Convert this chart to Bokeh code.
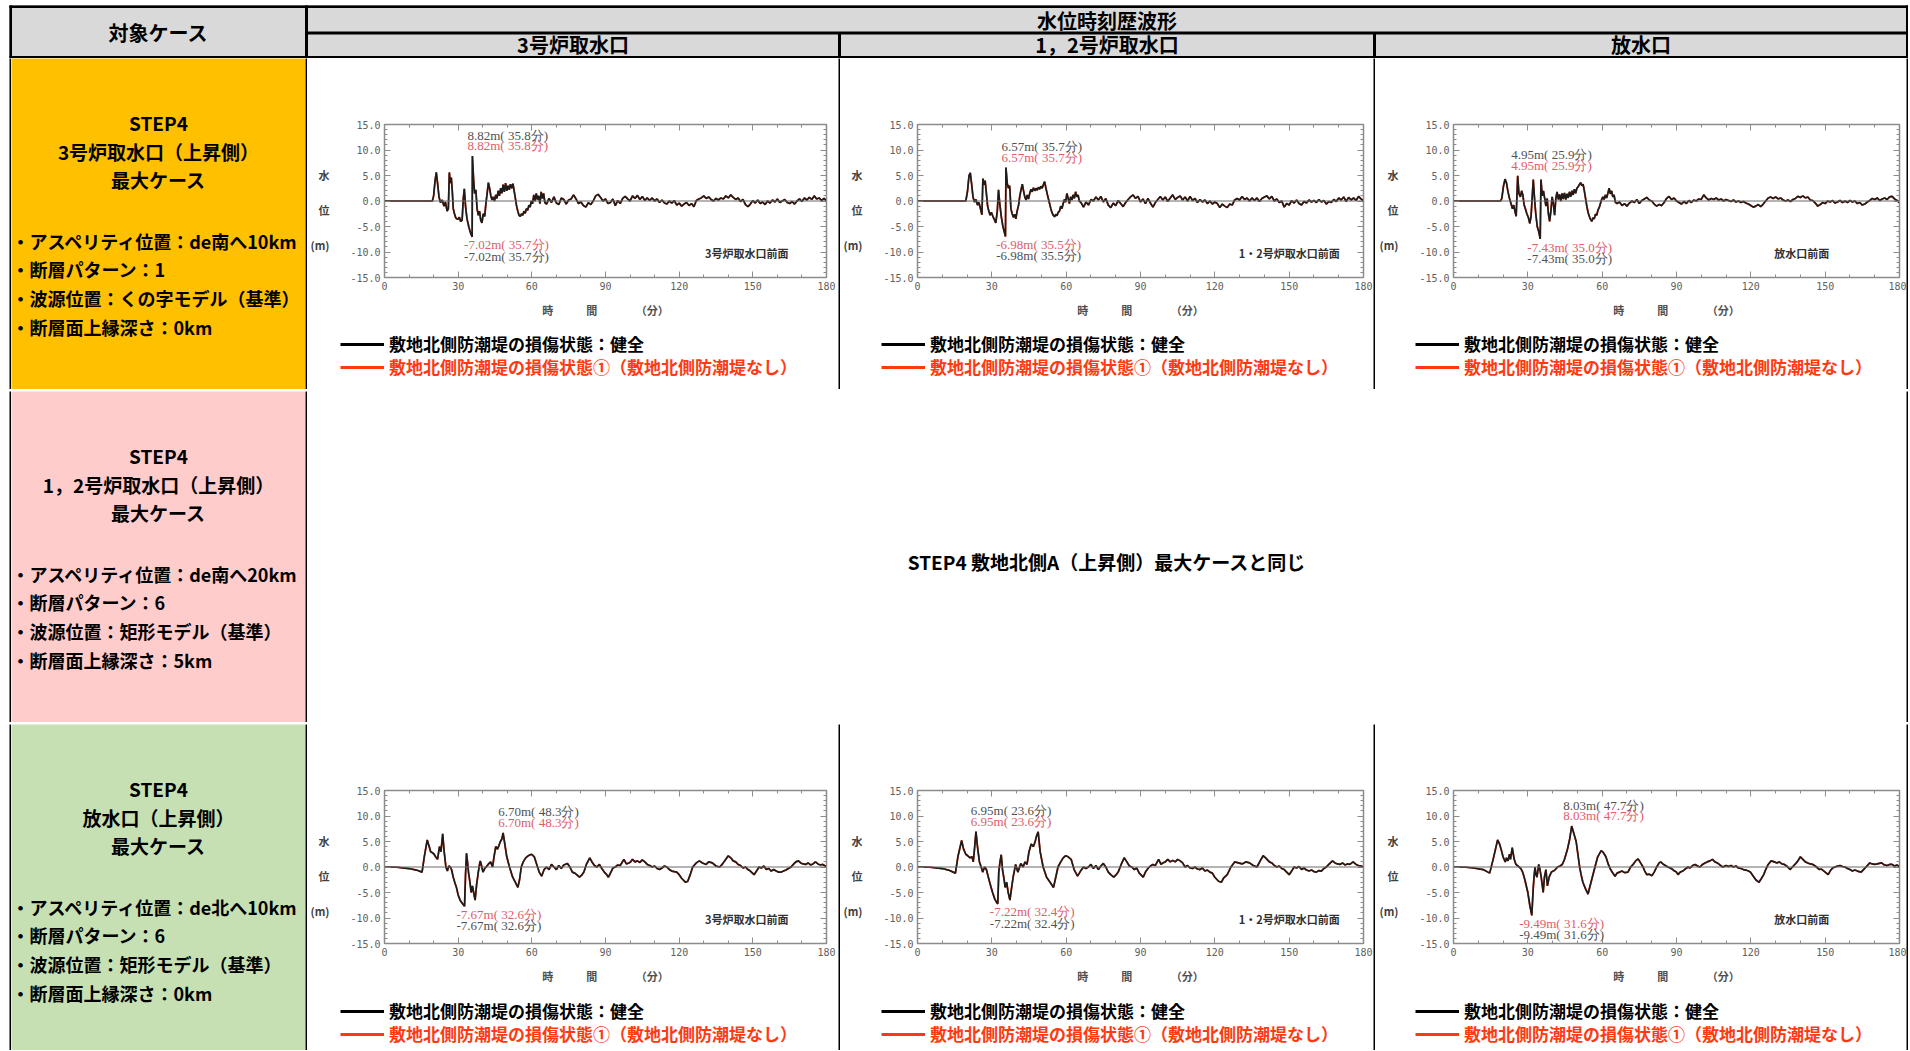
from bokeh.plotting import figure
from bokeh.layouts import column, row
from bokeh.models import (Range1d, Label, Span, Legend, LegendItem, FixedTicker,
                          PrintfTickFormatter, LinearAxis, ColumnDataSource)
from bokeh.embed import file_html
from bokeh.resources import INLINE

JP = "Noto Sans CJK JP"
SERIF = "Liberation Serif"
MONO = "DejaVu Sans Mono"

# ---------------- texts ----------------
HEAD_CASE = "対象ケース"
HEAD_WAVE = "水位時刻歴波形"
COL_TITLES = ["3号炉取水口", "1，2号炉取水口", "放水口"]
CASE_HEADS = [
    ["STEP4", "3号炉取水口（上昇側）", "最大ケース"],
    ["STEP4", "1，2号炉取水口（上昇側）", "最大ケース"],
    ["STEP4", "放水口（上昇側）", "最大ケース"],
]
CASE_BULLETS = [
    ["・アスペリティ位置：de南へ10km", "・断層パターン：1", "・波源位置：くの字モデル（基準）", "・断層面上縁深さ：0km"],
    ["・アスペリティ位置：de南へ20km", "・断層パターン：6", "・波源位置：矩形モデル（基準）", "・断層面上縁深さ：5km"],
    ["・アスペリティ位置：de北へ10km", "・断層パターン：6", "・波源位置：矩形モデル（基準）", "・断層面上縁深さ：0km"],
]
SAME_AS = "STEP4 敷地北側A（上昇側）最大ケースと同じ"
LEG_OK = "敷地北側防潮堤の損傷状態：健全"
LEG_DMG = "敷地北側防潮堤の損傷状態①（敷地北側防潮堤なし）"
GAUGE_NAMES = ["3号炉取水口前面", "1・2号炉取水口前面", "放水口前面"]
X_LABEL = "時　　　間　　　　（分）"
Y_LABEL = "\n水\n\n位\n\n(m)"

X_TICKS = [0, 30, 60, 90, 120, 150, 180]
X_MINOR = [10, 20, 40, 50, 70, 80, 100, 110, 130, 140, 160, 170]
Y_TICKS = [-15, -10, -5, 0, 5, 10, 15]
Y_MINOR = [-14, -13, -12, -11, -9, -8, -7, -6, -4, -3, -2, -1,
           1, 2, 3, 4, 6, 7, 8, 9, 11, 12, 13, 14]

# ---------------- waveform data (time [min], water level [m]) ----------------
WAVE_A2 = [
    (0, 0), (19.5, 0), (20.0, 1.0), (20.6, 4.0), (21.1, 5.6), (21.6, 3.5), (22.2, 0.8), (22.8, -0.3),
    (23.5, 0.2), (24.2, -1.0), (24.8, -0.2), (25.5, -2.0), (26.0, -1.5), (26.4, 5.6), (26.8, 3.5),
    (27.2, 4.6), (27.6, 2.0), (28.0, -1.5), (28.5, -2.5), (29.0, -3.3), (29.8, -3.6), (30.5, -3.2),
    (31.0, -4.0), (31.6, -3.8), (32.1, 0.5), (32.5, 2.4), (33.0, -1.0), (33.6, -3.5), (34.3, -5.0),
    (35.0, -6.2), (35.7, -7.02), (35.8, 8.82), (36.3, 4.0), (36.7, 1.5), (37.2, 2.2), (37.7, -1.5),
    (38.2, -2.8), (38.7, -2.0), (39.2, -3.8), (39.7, -4.3), (40.2, -2.5), (40.8, -3.0), (41.3, -0.5),
    (41.8, 1.5), (42.3, 3.6), (42.8, 2.5), (43.3, 1.0), (43.8, 0.2), (44.3, 0.8), (44.8, 0.0),
    (45.3, 1.2), (45.8, 0.5), (46.3, 2.0), (46.8, 1.0), (47.3, 2.5), (47.8, 1.5), (48.3, 3.2),
    (48.8, 1.8), (49.3, 3.5), (49.8, 2.0), (50.3, 3.0), (50.8, 2.2), (51.3, 3.3), (51.8, 2.5),
    (52.3, 3.4), (52.8, 2.0), (53.3, 0.5), (53.8, -1.0), (54.3, -2.0), (54.8, -2.8), (55.3, -3.0),
    (55.8, -2.5), (56.3, -2.8), (56.8, -2.0), (57.3, -2.4), (57.8, -1.5), (58.3, -1.8), (58.8, -0.8),
    (59.3, -1.2), (59.8, 0.0), (60.3, -0.5), (60.8, 1.2), (61.3, 0.0), (61.8, 1.5), (62.3, 0.3),
    (62.8, 1.0), (63.3, -0.5), (63.8, 1.8), (64.3, 0.5), (64.8, 1.5), (65.3, -0.3),
    (66, -0.6), (67, 0.5), (68, -0.3), (69, 0.8), (70, -0.4), (71, -0.7), (72, 0.6), (73, 0.3),
    (74, -0.6), (75, 0.2), (76, 0.4), (77, 1.2), (78, 0.4), (79, -0.5), (80, -0.2), (81, -0.9),
    (82, -1.2), (83, -0.3), (84, -0.7), (85, 0.0), (86, 1.0), (87, 1.3), (88, 0.7), (89, 0.0),
    (90, 0.4), (91, -0.5), (92, -0.3), (93, 0.4), (94, -0.9), (95, 0.1), (96, -0.5), (97, 0.5),
    (98, 0.9), (99, 0.4), (100, 0.0), (101, 1.0), (102, 0.5), (103, 1.1), (104, 0.3), (105, 0.9),
    (106, 0.1), (107, 0.6), (108, 0.1), (109, 0.6), (110, 0.0), (111, 0.4), (112, -0.3), (113, 0.2),
    (114, -0.4), (115, -0.6), (116, 0.0), (117, -0.4), (118, 0.1), (119, -0.8), (120, -0.4),
    (121, -1.0), (122, -0.6), (123, -0.3), (124, -0.9), (125, -0.5), (126, -1.1), (127, 0.1),
    (128, 0.4), (129, 0.6), (130, 1.0), (131, 0.5), (132, 0.8), (133, 0.3), (134, 0.0), (135, 0.5),
    (136, 0.2), (137, 0.6), (138, 0.4), (139, 1.0), (140, 0.6), (141, 1.2), (142, 0.7), (143, 0.3),
    (144, 0.6), (145, -0.1), (146, 0.3), (147, -0.7), (148, -1.1), (149, -0.6), (150, 0.1),
    (151, -0.4), (152, 0.2), (153, -0.5), (154, -0.2), (155, -0.7), (156, 0.0), (157, -0.4),
    (158, 0.2), (159, -0.2), (160, 0.4), (161, -0.3), (162, 0.0), (163, 0.3), (164, -0.3),
    (165, -0.5), (166, -0.1), (167, -0.6), (168, 0.0), (169, 0.4), (170, -0.1), (171, 0.6),
    (172, 0.2), (173, 0.7), (174, 0.3), (175, 1.0), (176, 0.4), (177, 0.6), (178, 0.1), (179, 0.5),
    (180, 0.0),
]
WAVE_A3 = [
    (0, 0), (19.5, 0), (20.2, 2.0), (20.8, 5.0), (21.3, 5.5), (21.8, 3.5), (22.4, 0.8), (23.0, -0.2),
    (23.6, 0.3), (24.2, -0.8), (24.8, -0.3), (25.4, -1.5), (26.0, -2.7), (26.4, 4.4), (26.9, 3.2),
    (27.3, 4.0), (27.8, 1.5), (28.3, -1.0), (28.8, -2.0), (29.3, -2.8), (29.8, -2.2), (30.4, -3.0),
    (31.0, -3.6), (31.6, -4.3), (32.2, -2.0), (32.7, 2.2), (33.2, -0.5), (33.8, -3.0), (34.4, -4.8),
    (35.0, -6.0), (35.5, -6.98), (35.7, 6.57), (36.2, 3.5), (36.7, 2.5), (37.2, 3.0), (37.7, -1.5),
    (38.2, -2.5), (38.7, -3.2), (39.2, -2.6), (39.7, -3.5), (40.2, -2.0), (40.8, -0.8), (41.3, 1.0),
    (41.8, 2.2), (42.3, 3.3), (42.8, 2.0), (43.3, 0.8), (43.8, 0.2), (44.3, 1.2), (44.8, 0.4),
    (45.3, 1.5), (45.8, 2.3), (46.3, 1.8), (46.8, 2.6), (47.3, 2.0), (47.8, 2.5), (48.3, 2.1),
    (48.8, 2.7), (49.3, 2.3), (49.8, 2.9), (50.3, 2.5), (50.8, 3.2), (51.3, 3.8), (51.8, 2.6),
    (52.3, 1.5), (52.8, 0.5), (53.3, -0.5), (53.8, -1.5), (54.3, -2.3), (54.8, -2.8), (55.3, -3.1),
    (55.8, -2.6), (56.3, -2.9), (56.8, -2.2), (57.3, -2.0), (57.8, -1.0), (58.3, -1.5), (58.8, -0.5),
    (59.3, 0.3), (59.8, -0.2), (60.3, 1.5), (60.8, 0.5), (61.3, -0.5), (61.8, 0.8), (62.3, 0.2),
    (62.8, 1.2), (63.3, 0.5), (63.8, 1.8), (64.3, 0.8), (64.8, 1.2), (65.3, 0.0),
    (66, -0.3), (67, -1.2), (68, -0.2), (69, -0.8), (70, 0.3), (71, 0.0), (72, 0.8), (73, 0.2),
    (74, 0.9), (75, -0.2), (76, 0.5), (77, -0.8), (78, -1.3), (79, -0.4), (80, -0.9), (81, 0.1),
    (82, -0.5), (83, -1.1), (84, -0.3), (85, 0.3), (86, 0.8), (87, 1.2), (88, 0.5), (89, 0.9),
    (90, -0.2), (91, 0.4), (92, -0.5), (93, 0.5), (94, -0.4), (95, -1.2), (96, -0.3), (97, 0.3),
    (98, 0.9), (99, 0.2), (100, 0.8), (101, -0.1), (102, 0.6), (103, 1.2), (104, 0.3), (105, 0.7),
    (106, 1.0), (107, 0.2), (108, 0.8), (109, 0.0), (110, 0.9), (111, 0.1), (112, 0.5), (113, -0.3),
    (114, 0.3), (115, -0.2), (116, 0.2), (117, -0.5), (118, 0.0), (119, -0.6), (120, -0.2),
    (121, -0.5), (122, -1.3), (123, -0.6), (124, -1.0), (125, -1.3), (126, -0.6), (127, -0.8),
    (128, 0.2), (129, 0.5), (130, 0.2), (131, 0.9), (132, 0.3), (133, 0.6), (134, 0.0), (135, 0.6),
    (136, 0.1), (137, 0.6), (138, -0.1), (139, 0.5), (140, 0.8), (141, 1.0), (142, 0.4), (143, 0.9),
    (144, 0.0), (145, 0.4), (146, -0.3), (147, 0.0), (148, -1.2), (149, -0.5), (150, -0.8),
    (151, 0.1), (152, -0.4), (153, 0.2), (154, -0.5), (155, -0.8), (156, -0.1), (157, -0.4),
    (158, 0.2), (159, -0.2), (160, 0.1), (161, -0.3), (162, 0.3), (163, -0.2), (164, 0.1),
    (165, -0.6), (166, -0.1), (167, -0.3), (168, 0.3), (169, -0.1), (170, 0.6), (171, 0.2),
    (172, 0.8), (173, -0.1), (174, 0.7), (175, 0.2), (176, 0.6), (177, 0.1), (178, 0.9), (179, 0.4),
    (180, 0.0),
]
WAVE_A4 = [
    (0, 0), (19.0, 0), (19.5, 0.5), (20.2, 3.0), (20.8, 4.3), (21.4, 3.5), (22.0, 1.8), (22.6, 0.5),
    (23.2, -0.5), (23.8, -1.5), (24.3, -0.8), (24.8, -2.0), (25.3, -3.0), (25.9, 4.95), (26.4, 1.5),
    (27.0, 0.8), (27.5, 2.0), (28.0, 1.2), (28.5, -0.8), (29.0, -1.5), (29.6, -2.5), (30.2, -3.2),
    (30.8, -4.4), (31.3, -3.0), (31.8, 1.0), (32.2, 4.2), (32.7, 0.5), (33.2, -2.5), (33.8, -5.0),
    (34.4, -6.0), (35.0, -7.43), (35.3, 4.2), (35.8, 1.0), (36.3, 2.0), (36.8, 0.5), (37.3, -1.0),
    (37.8, 0.5), (38.3, -2.5), (38.8, -4.0), (39.3, -2.0), (39.8, 0.8), (40.3, -0.5), (40.8, -2.8),
    (41.3, 0.5), (41.8, 1.8), (42.3, 0.3), (42.8, 1.3), (43.3, 0.0), (43.8, 1.5), (44.3, 0.4),
    (44.8, 1.6), (45.3, 0.3), (45.8, 1.4), (46.3, 0.6), (46.8, 1.8), (47.3, 0.8), (47.8, 2.0),
    (48.3, 1.2), (48.8, 2.3), (49.3, 1.5), (49.8, 2.5), (50.3, 2.8), (50.8, 3.2), (51.3, 3.6),
    (51.8, 3.0), (52.3, 3.3), (52.8, 2.0), (53.3, 0.5), (53.8, -1.0), (54.3, -2.2), (54.8, -3.0),
    (55.3, -3.6), (55.8, -4.0), (56.3, -3.3), (56.8, -3.5), (57.3, -2.6), (57.8, -2.8), (58.3, -1.8),
    (58.8, -1.3), (59.3, -0.5), (59.8, 0.3), (60.3, 0.8), (60.8, 0.3), (61.3, 1.2), (61.8, 0.6),
    (62.3, 1.5), (62.8, 2.5), (63.3, 1.4), (63.8, 2.0), (64.3, 0.8), (64.8, 1.2), (65.3, -0.2),
    (66, -0.5), (67, -0.2), (68, -0.9), (69, -0.5), (70, -1.0), (71, -0.4), (72, 0.0), (73, -0.3),
    (74, 0.3), (75, -0.5), (76, 0.1), (77, 0.4), (78, 0.7), (79, 0.2), (80, 0.0), (81, -0.6),
    (82, -1.0), (83, -0.7), (84, -0.9), (85, -0.3), (86, 0.5), (87, 0.9), (88, 0.3), (89, 0.6),
    (90, 0.0), (91, -0.3), (92, -0.6), (93, -0.1), (94, -0.5), (95, 0.1), (96, -0.3), (97, 0.2),
    (98, 0.0), (99, 0.4), (100, 0.3), (101, 1.2), (102, 0.6), (103, 0.2), (104, 0.5), (105, 0.3),
    (106, 0.6), (107, 0.2), (108, 0.4), (109, 0.0), (110, 0.3), (111, 0.1), (112, -0.1), (113, 0.2),
    (114, -0.2), (115, 0.0), (116, -0.3), (117, -0.1), (118, -0.4), (119, -0.6), (120, -0.9),
    (121, -1.2), (122, -1.0), (123, -0.7), (124, -1.1), (125, -0.6), (126, 0.0), (127, 0.6),
    (128, 0.8), (129, 0.5), (130, 0.8), (131, 0.4), (132, 0.6), (133, 0.2), (134, 0.0), (135, 0.2),
    (136, -0.1), (137, 0.3), (138, 0.5), (139, 0.9), (140, 0.7), (141, 1.0), (142, 0.6), (143, 0.8),
    (144, 0.2), (145, 0.1), (146, -0.4), (147, -1.0), (148, -0.7), (149, -0.3), (150, -0.5),
    (151, 0.0), (152, -0.2), (153, 0.1), (154, -0.4), (155, -0.2), (156, 0.1), (157, -0.3),
    (158, 0.0), (159, -0.3), (160, 0.1), (161, -0.2), (162, 0.0), (163, -0.5), (164, -0.3),
    (165, -0.8), (166, -0.6), (167, -0.2), (168, 0.1), (169, 0.5), (170, 0.3), (171, 0.6),
    (172, 0.1), (173, 0.4), (174, 0.6), (175, 0.3), (176, 0.8), (177, 0.9), (178, 0.4), (179, 0.1),
    (180, -0.3),
]
WAVE_C2 = [
    (0, 0), (5, -0.05), (10, -0.3), (13, -0.6), (15.3, -1.0), (16.2, 2.0), (17.4, 5.3), (18.2, 4.0),
    (18.8, 3.0), (19.5, 2.8), (20.2, 2.5), (20.8, 2.0), (21.6, 1.5), (22.4, 4.0), (23.0, 3.0),
    (23.7, 6.5), (24.3, 3.0), (25.0, 0.0), (25.6, -0.8), (26.2, 0.2), (26.8, 0.0), (27.3, -0.5),
    (28.0, -2.0), (28.6, -3.0), (29.3, -4.0), (30.0, -5.5), (30.8, -6.5), (31.8, -7.2), (32.6, -7.67),
    (33.0, -1.5), (33.4, 2.7), (33.8, 1.0), (34.2, -1.0), (34.8, -3.0), (35.3, -5.0), (35.8, -3.7),
    (36.3, -5.0), (36.9, -6.5), (37.5, -3.5), (38.2, -1.0), (38.7, 0.5), (39.0, 1.2), (39.5, 0.3),
    (40.1, -1.0), (40.8, -0.3), (41.4, 0.0), (42.2, 0.5), (43.2, 1.0), (44.0, 0.0), (44.6, 2.0),
    (45.3, 4.0), (46.0, 3.5), (46.6, 4.2), (47.2, 5.0), (47.8, 5.5), (48.3, 6.7), (49.0, 4.5),
    (49.8, 2.0), (50.9, 0.0), (52.2, -2.0), (53.3, -3.0), (54.3, -4.0), (55.0, -2.5), (55.7, 0.0),
    (56.5, 1.0), (57.5, 1.8), (58.5, 2.2), (59.9, 2.5), (61.0, 2.0), (62.0, 0.5), (63.0, -1.0),
    (64.0, -1.8), (65.0, -0.5), (66.0, 0.0), (67, -0.5), (68, 0.5), (69, 0.0), (70, -0.5), (71, 0.3),
    (72, -0.3), (73, 0.4), (74.5, 0.7), (75.5, 0.0), (76.5, -1.0), (77.5, -1.2), (78.5, -1.6),
    (79.4, -2.0), (80.3, -1.6), (81.2, -1.0), (82.2, 0.5), (83.6, 1.8), (84.5, 1.0), (85.5, 0.3),
    (86.5, 0.0), (87.5, 0.5), (88.5, -0.3), (89.5, -1.0), (90.5, -1.5), (91.2, -2.0), (92.0, -1.2),
    (93.0, -0.2), (94, 0.0), (95, 0.4), (96, 0.3), (97.5, 1.5), (98.5, 0.6), (99.5, 0.8), (100.2, 1.0),
    (101, 1.5), (102, 1.0), (103, 1.2), (104, 0.9), (105, 1.4), (106, 1.0), (107, 0.5), (108, 0.3),
    (109, 0.0), (110, 0.2), (111, -0.3), (112, -0.5), (113, -0.2), (114, 0.2), (115, 0.0), (116, -0.5),
    (117, -0.8), (118, -0.9), (119, -1.0), (120, -1.5), (121, -2.2), (122.6, -3.0), (123.5, -2.8),
    (124.5, -1.5), (125.5, 0.0), (127, 0.8), (128.2, 1.2), (129.5, 0.8), (131, 0.5), (132, 1.0),
    (133.5, 0.8), (135, 0.2), (136.5, 0.0), (137.5, 0.5), (138.5, 1.2), (140, 2.2), (141, 1.8),
    (142, 1.2), (143, 1.0), (144, 0.5), (145, 0.3), (146, -0.2), (147, 0.0), (148, -0.5), (149, -0.8),
    (150.5, -1.5), (151.5, -0.8), (152.5, 0.0), (153.5, -0.2), (154.5, 0.2), (155.5, -0.5),
    (156.5, -0.3), (157.5, -0.8), (158.5, -0.5), (159.5, -0.8), (160.5, -1.0), (161.6, -1.0),
    (162.5, -0.8), (163.5, -0.6), (164.5, -0.3), (165.5, 0.0), (166.5, 0.5), (167.5, 1.0),
    (168.6, 1.2), (169.5, 0.8), (170.5, 0.6), (171.5, 0.5), (172.5, 0.8), (173.5, 0.4), (174.5, 0.6),
    (175.5, 1.0), (176.5, 0.6), (177.5, 0.4), (178.5, 0.5), (179.5, 0.2), (180, 0.0),
]
WAVE_C3 = [
    (0, 0), (5, -0.05), (10, -0.3), (12.5, -0.6), (15.3, -1.2), (16.3, 2.0), (17.8, 5.2), (18.6, 3.5),
    (19.5, 2.5), (20.3, 2.2), (21.2, 1.8), (22.0, 2.0), (22.5, 1.0), (23.0, 3.5), (23.6, 6.95),
    (24.2, 4.0), (25.0, 1.0), (25.7, 0.0), (26.3, -1.0), (27.1, 0.0), (27.8, -0.5), (28.6, -2.0),
    (29.4, -3.5), (30.3, -5.0), (31.2, -6.3), (32.0, -7.0), (32.4, -7.22), (32.8, -1.0), (33.3, 1.0),
    (33.8, 2.4), (34.3, -0.5), (34.8, -2.0), (35.4, -4.0), (36.0, -3.0), (36.6, -5.0), (37.3, -6.5),
    (38.0, -4.0), (38.6, -2.0), (39.6, 0.5), (40.5, -1.0), (41.7, 0.7), (42.6, 0.0), (43.4, 1.0),
    (44.2, 0.5), (45.0, 3.0), (45.9, 4.5), (46.8, 4.0), (47.5, 5.0), (48.0, 6.0), (48.7, 6.9),
    (49.5, 3.0), (50.7, 0.0), (52.1, -2.0), (53.5, -3.0), (54.9, -4.0), (55.8, -2.0), (56.7, 0.0),
    (57.8, 1.0), (58.8, 1.8), (59.8, 2.2), (60.8, 2.0), (62.0, 1.5), (63.2, -0.5), (64.6, -1.8),
    (65.8, -0.8), (67, 0.0), (68, -0.3), (69, 0.0), (70, 0.5), (71, -0.3), (72, 0.3), (73, -0.5),
    (74, 0.2), (75, 0.7), (76, 0.0), (77, -1.0), (78, -1.5), (79.2, -2.0), (80.2, -1.5), (81, -1.0),
    (82.2, 0.5), (83.4, 1.8), (84.5, 1.0), (85.5, 0.2), (86.5, 0.0), (87.5, -0.5), (88.5, -0.2),
    (89.5, -1.2), (91.1, -2.0), (92, -1.0), (93, -0.3), (94, 0.2), (95, 0.5), (96, 0.3), (97.3, 1.5),
    (98.3, 0.5), (99, 0.8), (100, 1.0), (101, 1.5), (102, 1.0), (103, 1.3), (104, 1.0), (105, 1.5),
    (106, 1.2), (107, 0.8), (108, 0.0), (109, 0.3), (110, -0.2), (111, -0.3), (112, 0.0), (113, -0.4),
    (114, -0.5), (115, -0.2), (116, -0.8), (117, -0.6), (118, -1.0), (119, -1.2), (120, -2.0),
    (121.5, -2.8), (122.6, -3.0), (123.5, -2.2), (125, -1.5), (126.5, 0.0), (128, 1.0), (129.5, 0.8),
    (131, 0.6), (132.5, 1.0), (134, 0.8), (135.5, 0.3), (137, 0.0), (138.3, 1.2), (139.5, 2.2),
    (140.5, 1.8), (142, 1.0), (143, 0.8), (144, 0.3), (145, 0.0), (146, 0.2), (147, -0.3), (148, -0.5),
    (149, -1.0), (150, -1.5), (151, -0.8), (152, 0.0), (153, -0.2), (154, 0.1), (155, -0.5),
    (156, -0.2), (157, -0.6), (158, -0.8), (159, -0.6), (160, -0.9), (161, -1.0), (162, -0.7),
    (163, -0.8), (164, -0.3), (165, 0.0), (166, 0.5), (167.5, 1.2), (168.5, 0.8), (169.5, 0.6),
    (170.5, 0.5), (171.5, 0.8), (172.5, 0.4), (173.5, 0.6), (174.5, 0.5), (175.8, 1.0), (177, 0.5),
    (178, 0.3), (179, 0.2), (180, 0.0),
]
WAVE_C4 = [
    (0, 0), (5, -0.05), (8, -0.2), (12, -0.5), (14.6, -1.2), (16.0, 1.5), (17.8, 5.3), (18.6, 4.5),
    (19.2, 3.5), (20.0, 2.0), (20.9, 1.0), (21.4, 1.8), (22.0, 1.2), (22.6, 2.5), (23.0, 1.5),
    (23.7, 3.8), (24.5, 1.5), (25.2, 0.5), (26.5, 0.0), (27.2, -0.3), (27.9, -1.0), (28.8, -2.5),
    (30.0, -5.0), (30.8, -7.5), (31.6, -9.49), (32.2, -4.0), (32.5, -2.0), (32.9, 0.0), (33.3, -1.5),
    (33.7, -2.0), (34.4, 0.5), (34.9, -0.5), (35.4, -2.0), (36.2, -5.0), (36.7, -2.0), (37.3, -0.5),
    (37.9, -3.7), (38.6, -2.0), (39.5, -1.0), (40.3, -0.8), (41.1, -0.5), (42.0, 0.0), (43.0, 0.2),
    (43.9, 0.5), (44.8, 1.5), (46.0, 3.5), (46.9, 5.5), (47.7, 8.03), (48.6, 6.5), (49.5, 5.0),
    (50.2, 2.5), (50.9, 0.0), (51.5, -1.5), (52.2, -3.0), (53.3, -4.3), (54.3, -5.3), (55.5, -3.0),
    (57.1, 0.0), (58.2, 2.0), (59.6, 3.2), (60.5, 2.8), (61.5, 2.0), (62.5, 0.5), (63.4, -0.5),
    (64.3, -1.2), (65.2, -1.8), (66.0, -1.2), (67.0, -1.0), (68, -0.8), (69, -1.1), (70.4, -1.0),
    (71.5, 0.0), (72.5, 0.5), (73.5, 1.2), (74.5, 1.6), (75.5, 0.8), (76.5, 0.0), (77.2, -0.8),
    (78.0, -1.5), (79.0, -1.4), (80.1, -1.7), (81, -1.0), (82, 0.0), (83, 0.8), (83.6, 1.0),
    (84.5, 0.6), (85.5, 0.3), (86.5, 0.0), (87.5, -0.2), (88.5, -0.5), (89.2, -0.8), (90.0, -1.0),
    (90.6, -1.5), (91.5, -1.0), (92.5, -0.8), (93.5, -0.4), (94.7, 0.0), (95.5, -0.2), (96.5, 0.3),
    (97.5, 0.5), (98.5, 0.2), (99.5, 0.0), (100.5, 0.5), (101.5, 0.8), (102.4, 1.0), (103.5, 1.2),
    (104.5, 1.5), (105.5, 1.0), (106.5, 0.8), (107.5, 0.4), (108.7, 0.0), (110, 0.3), (111, 0.1),
    (112, 0.3), (113, 0.0), (114, 0.2), (115, -0.2), (116, -0.3), (117, -0.5), (118, -0.6),
    (119, -0.8), (119.8, -1.0), (121, -1.8), (122, -2.5), (123.3, -3.0), (124.2, -2.3),
    (125.2, -1.5), (126, -0.5), (127, 0.5), (128.2, 1.2), (129.5, 1.0), (130.5, 0.8), (131.5, 1.0),
    (132.5, 0.6), (133.5, 0.5), (134.5, 0.2), (135.8, -0.5), (136.8, 0.0), (137.8, 0.5), (139, 1.2),
    (140, 2.0), (141, 1.5), (142, 1.0), (143, 0.8), (144, 0.6), (145, 0.5), (146, 0.2), (147.7, -0.5),
    (148.5, -0.4), (149.5, -0.8), (150.5, -1.2), (151.2, -1.5), (152, -0.8), (153, -0.2), (154, 0.0),
    (155, 0.2), (156, 0.3), (157, 0.1), (158, 0.0), (159, -0.3), (160, -0.5), (161, -0.8),
    (162, -0.6), (163, -0.8), (164.5, -1.0), (165.5, -0.5), (166.5, 0.0), (168, 0.8), (169, 0.6),
    (170, 0.5), (171, 0.6), (172.8, 0.8), (173.8, 0.4), (175, 0.3), (176, 0.5), (177, 0.5),
    (178, 0.2), (179, 0.4), (180, 0.0),
]

# annotated extremes: (max m, max time, min m, min time)
PEAK_A2 = (8.82, 35.8, -7.02, 35.7)
PEAK_A3 = (6.57, 35.7, -6.98, 35.5)
PEAK_A4 = (4.95, 25.9, -7.43, 35.0)
PEAK_C2 = (6.70, 48.3, -7.67, 32.6)
PEAK_C3 = (6.95, 23.6, -7.22, 32.4)
PEAK_C4 = (8.03, 47.7, -9.49, 31.6)

# ---------------- styles / layout ----------------
PAGE_LEFT = 9
PAGE_TOP = 5
SEP = 2
COL_W = [294, 531, 533, 531]
FRAME_LEFT = [72, 75, 78]
FRAME_W = [447, 448, 446]
GAUGE_X = [147.5, 150.0, 140.5]
LEGEND_X = [33, 41, 40]
ROW_H = [331, 331, 326]
HEADER_H = 53
CHART_H = 271
TOTAL_W = sum(COL_W) + 5 * SEP
LEG_ITEM_H = 24

CASE_COLORS = ["#FFC000", "#FFCCCC", "#C6E0B4"]
HEAD_BG = "#D9D9D9"
FRAME_C = "#8c8c8c"
WAVE_COLOR = "#1c1c1c"
DMG_COLOR = "#ff3a12"
ANN_GRAY = "#505050"
ANN_RED = "#e05c68"


def blank(w, h, bg, xr, yr, **kw):
    opts = dict(min_border=0)
    opts.update(kw)
    p = figure(width=w, height=h, title=None, x_range=xr, y_range=yr,
               output_backend="svg", toolbar_location=None,
               x_axis_location=None, y_axis_location=None,
               background_fill_color=bg, border_fill_color=bg,
               outline_line_color=None, **opts)
    p.grid.visible = False
    return p


def sep(w, h):
    return blank(w, h, "black", Range1d(0, 1), Range1d(0, 1))


def pad(w, h):
    return blank(w, h, "white", Range1d(0, 1), Range1d(0, 1))


def jp_label(x, y, text, size="18px", align="center", color="black"):
    return Label(x=x, y=y, text=text, text_font=JP, text_font_size=size,
                 text_font_style="bold", text_color=color, text_align=align,
                 text_baseline="middle")


# ---------------- header ----------------
xs = [0]
for w in COL_W:
    xs.append(xs[-1] + SEP + w)
MID = 27.5
hdr = blank(TOTAL_W, HEADER_H, HEAD_BG, Range1d(0, TOTAL_W), Range1d(HEADER_H, 0))
ql, qr, qt, qb = [], [], [], []
for (l, r, t, b) in [(0, TOTAL_W, 0, SEP), (0, TOTAL_W, HEADER_H - SEP, HEADER_H),
                     (xs[0], xs[0] + SEP, 0, HEADER_H), (xs[1], xs[1] + SEP, 0, HEADER_H),
                     (xs[4], xs[4] + SEP, 0, HEADER_H),
                     (xs[2], xs[2] + SEP, MID, HEADER_H), (xs[3], xs[3] + SEP, MID, HEADER_H),
                     (xs[1] + SEP, xs[4], MID - 1, MID + 1)]:
    ql.append(l); qr.append(r); qt.append(t); qb.append(b)
hdr.quad(left=ql, right=qr, top=qt, bottom=qb, color="black")
hdr.add_layout(jp_label((xs[0] + xs[1] + SEP) / 2, 27, HEAD_CASE, size="20px"))
hdr.add_layout(jp_label((xs[1] + SEP + xs[4]) / 2, 15, HEAD_WAVE, size="20px"))
for i, ttl in enumerate(COL_TITLES):
    hdr.add_layout(jp_label((xs[i + 1] + SEP + xs[i + 2]) / 2, 38.5, ttl, size="20px"))


def make_case(h, color, heads, bullets):
    p = blank(COL_W[0], h, color, Range1d(0, COL_W[0]), Range1d(h, 0))
    for txt, y in zip(heads, [64, 93, 121]):
        p.add_layout(jp_label(COL_W[0] / 2, y, txt, size="19px"))
    for txt, y in zip(bullets, [182, 210, 239, 268]):
        p.add_layout(jp_label(0, y, txt, size="18px", align="left"))
    return p


def make_chart(ci, src, peak, dx_max, dx_min):
    cw = COL_W[ci + 1]
    left = FRAME_LEFT[ci]
    right = cw - left - FRAME_W[ci]
    p = figure(width=cw, height=CHART_H, title=None,
               x_range=Range1d(0, 180), y_range=Range1d(-15, 15),
               output_backend="svg", toolbar_location=None,
               min_border_left=left, min_border_right=right,
               min_border_top=66, min_border_bottom=52,
               background_fill_color="white", border_fill_color="white",
               outline_line_color=FRAME_C, outline_line_width=1.5)
    p.grid.visible = False
    xa, ya = p.xaxis[0], p.yaxis[0]
    xa.ticker = FixedTicker(ticks=X_TICKS, minor_ticks=X_MINOR)
    ya.ticker = FixedTicker(ticks=Y_TICKS, minor_ticks=Y_MINOR)
    ya.formatter = PrintfTickFormatter(format="%.1f")
    extra = []
    for loc, tk in (("right", FixedTicker(ticks=Y_TICKS, minor_ticks=Y_MINOR)),
                    ("above", FixedTicker(ticks=X_TICKS, minor_ticks=X_MINOR))):
        ax = LinearAxis(ticker=tk, major_label_text_font_size="1px",
                        major_label_text_alpha=0, major_label_standoff=0)
        p.add_layout(ax, loc)
        extra.append(ax)
    for ax in [xa, ya] + extra:
        ax.major_tick_in = 6
        ax.major_tick_out = 0
        ax.minor_tick_in = 3
        ax.minor_tick_out = 0
        ax.axis_line_color = FRAME_C
        ax.major_tick_line_color = FRAME_C
        ax.minor_tick_line_color = FRAME_C
    for ax in (xa, ya):
        ax.major_label_text_font = MONO
        ax.major_label_text_font_size = "10px"
        ax.major_label_text_color = "#606060"
        ax.major_label_standoff = 4
    xa.axis_label = X_LABEL
    xa.axis_label_text_font = JP
    xa.axis_label_text_font_size = "11px"
    xa.axis_label_text_font_style = "bold"
    xa.axis_label_text_color = "#505050"
    xa.axis_label_standoff = 9
    ya.axis_label = Y_LABEL
    ya.axis_label_orientation = "horizontal"
    ya.axis_label_text_font = JP
    ya.axis_label_text_font_size = "11px"
    ya.axis_label_text_font_style = "bold"
    ya.axis_label_text_color = "#404040"
    ya.axis_label_text_line_height = 1.1
    ya.axis_label_standoff = 18

    p.add_layout(Span(location=0, dimension="width", line_color="#6a6a6a", line_width=1))
    p.line("t", "v_dmg", source=src, line_color=DMG_COLOR, line_width=1.7)
    p.line("t", "v", source=src, line_color=WAVE_COLOR, line_width=1.7)

    vmax, tmax, vmin, tmin = peak
    s_max = f"{vmax:.2f}m( {tmax:.1f}分)"
    s_min = f"{vmin:.2f}m( {tmin:.1f}分)"
    for txt, x, y, c in ((s_max, tmax + dx_max, vmax + 4.1, ANN_GRAY),
                         (s_max, tmax + dx_max, vmax + 2.0, ANN_RED),
                         (s_min, tmin + dx_min, vmin - 1.6, ANN_RED),
                         (s_min, tmin + dx_min, vmin - 3.8, ANN_GRAY)):
        p.add_layout(Label(x=x, y=y, text=txt, text_font=SERIF, text_font_size="13px",
                           text_color=c, text_align="left", text_baseline="middle"))
    p.add_layout(Label(x=GAUGE_X[ci], y=-10.2, text=GAUGE_NAMES[ci], text_font=JP,
                       text_font_size="11px", text_font_style="bold", text_color="#303030",
                       text_align="center", text_baseline="middle"))
    return p


def make_legend(ci, h, centers, src):
    cw = COL_W[ci + 1]
    half = LEG_ITEM_H // 2
    # frame spans exactly the two legend rows; the series themselves stay out of view
    p = blank(cw, h, "white", Range1d(0, 180), Range1d(100, 101),
              min_border_left=LEGEND_X[ci], min_border_right=0,
              min_border_top=centers[0] - half, min_border_bottom=h - centers[1] - half)
    rk = p.line("t", "v", source=src, line_color="black", line_width=3)
    rr = p.line("t", "v_dmg", source=src, line_color=DMG_COLOR, line_width=3)
    for txt, r, col, loc in ((LEG_OK, rk, "black", "top_left"),
                             (LEG_DMG, rr, DMG_COLOR, "bottom_left")):
        lg = Legend(items=[LegendItem(label=txt, renderers=[r])],
                    location=loc, orientation="vertical",
                    padding=0, margin=0, spacing=0, glyph_width=44, glyph_height=LEG_ITEM_H,
                    label_height=LEG_ITEM_H, label_standoff=5, label_text_font=JP,
                    label_text_font_style="bold", label_text_font_size="17px",
                    label_text_color=col, border_line_color=None, background_fill_alpha=0)
        p.add_layout(lg)
    return p


def chart_cell(ci, pairs, peak, dx_max, dx_min, h, centers):
    t = [a for a, b in pairs]
    v = [b for a, b in pairs]
    src = ColumnDataSource(dict(t=t, v=v, v_dmg=list(v)))
    # wrap each figure in its own row so the column does not align their frames
    return column(row(make_chart(ci, src, peak, dx_max, dx_min)),
                  row(make_legend(ci, h - CHART_H, centers, src)))


hA = ROW_H[0]
rowA = row(pad(PAGE_LEFT, hA), sep(SEP, hA),
           make_case(hA, CASE_COLORS[0], CASE_HEADS[0], CASE_BULLETS[0]), sep(SEP, hA),
           chart_cell(0, WAVE_A2, PEAK_A2, -2.0, -3.3, hA, (14, 38)), sep(SEP, hA),
           chart_cell(1, WAVE_A3, PEAK_A3, -1.8, -3.7, hA, (14, 38)), sep(SEP, hA),
           chart_cell(2, WAVE_A4, PEAK_A4, -2.6, -5.2, hA, (14, 38)), sep(SEP, hA))

hB = ROW_H[1]
wide_w = COL_W[1] + COL_W[2] + COL_W[3] + 2 * SEP
wide = blank(wide_w, hB, "white", Range1d(0, wide_w), Range1d(hB, 0))
wide.add_layout(jp_label(wide_w / 2, 170, SAME_AS, size="19px"))
rowB = row(pad(PAGE_LEFT, hB), sep(SEP, hB),
           make_case(hB, CASE_COLORS[1], CASE_HEADS[1], CASE_BULLETS[1]), sep(SEP, hB),
           wide, sep(SEP, hB))

hC = ROW_H[2]
rowC = row(pad(PAGE_LEFT, hC), sep(SEP, hC),
           make_case(hC, CASE_COLORS[2], CASE_HEADS[2], CASE_BULLETS[2]), sep(SEP, hC),
           chart_cell(0, WAVE_C2, PEAK_C2, -2.0, -3.3, hC, (15, 39)), sep(SEP, hC),
           chart_cell(1, WAVE_C3, PEAK_C3, -2.1, -3.2, hC, (15, 39)), sep(SEP, hC),
           chart_cell(2, WAVE_C4, PEAK_C4, -3.4, -5.1, hC, (15, 39)), sep(SEP, hC))


def hline():
    return row(pad(PAGE_LEFT, SEP), sep(TOTAL_W, SEP))


layout = column(pad(PAGE_LEFT + TOTAL_W, PAGE_TOP),
                row(pad(PAGE_LEFT, HEADER_H), hdr),
                rowA, hline(), rowB, hline(), rowC)

with open("out.html", "w") as f:
    f.write(file_html(layout, INLINE))
